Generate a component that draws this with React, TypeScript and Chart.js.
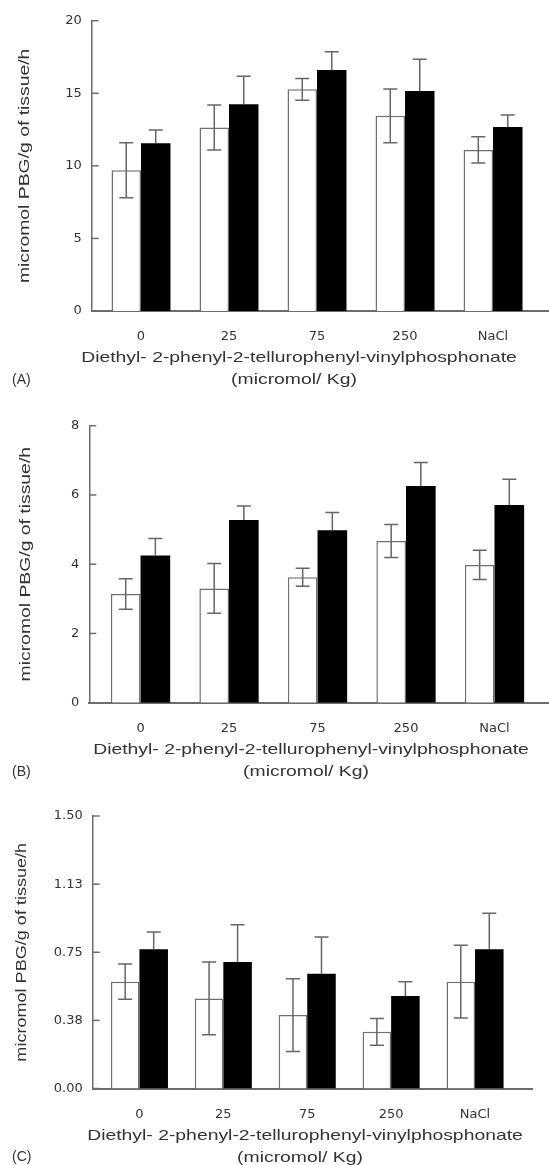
import React, { useEffect, useRef } from 'react';
import { Chart, registerables } from 'chart.js';

Chart.register(...registerables);

// ---------- data ----------
const categories = ['0', '25', '75', '250', 'NaCl'];
const xTitleLine1 = 'Diethyl- 2-phenyl-2-tellurophenyl-vinylphosphonate';
const xTitleLine2 = '(micromol/ Kg)';
const yTitle = 'micromol PBG/g of tissue/h';

// Panel A
const aWhite = [9.7, 12.65, 15.27, 13.45, 11.1];
const aWhiteErr = [1.9, 1.55, 0.75, 1.85, 0.9];
const aBlack = [11.55, 14.25, 16.6, 15.15, 12.67];
const aBlackErr = [0.92, 1.93, 1.26, 2.2, 0.83];
const aTickValues = [0, 5, 10, 15, 20];
const aTickLabels = ['0', '5', '10', '15', '20'];

// Panel B
const bWhite = [3.14, 3.3, 3.62, 4.67, 3.98];
const bWhiteErr = [0.44, 0.72, 0.26, 0.48, 0.42];
const bBlack = [4.25, 5.28, 4.98, 6.26, 5.71];
const bBlackErr = [0.49, 0.4, 0.51, 0.68, 0.74];
const bTickValues = [0, 2, 4, 6, 8];
const bTickLabels = ['0', '2', '4', '6', '8'];

// Panel C
const cWhite = [0.588, 0.496, 0.404, 0.312, 0.588];
const cWhiteErr = [0.097, 0.2, 0.2, 0.074, 0.2];
const cBlack = [0.766, 0.696, 0.632, 0.509, 0.766];
const cBlackErr = [0.095, 0.205, 0.202, 0.079, 0.198];
const cTickValues = [0, 0.375, 0.75, 1.125, 1.5];
const cTickLabels = ['0.00', '0.38', '0.75', '1.13', '1.50'];

// ---------- layout (styles / positions) ----------
const W = 549;
const panels = [
  {
    label: '(A)', top: 0, height: 398, plotTop: 20.7, baseline: 311, left: 91.7, right: 549,
    xMin: -0.56, xMax: 4.636, titleX: 299, yTitleX: 24.5, yTitleSize: 15, catPct: 0.67,
    white: aWhite, whiteErr: aWhiteErr, black: aBlack, blackErr: aBlackErr,
    tickValues: aTickValues, tickLabels: aTickLabels,
  },
  {
    label: '(B)', top: 398, height: 390, plotTop: 425.7, baseline: 702.7, left: 89.3, right: 549,
    xMin: -0.579, xMax: 4.616, titleX: 311, yTitleX: 26, yTitleSize: 15, catPct: 0.67,
    white: bWhite, whiteErr: bWhiteErr, black: bBlack, blackErr: bBlackErr,
    tickValues: bTickValues, tickLabels: bTickLabels,
  },
  {
    label: '(C)', top: 788, height: 377, plotTop: 816, baseline: 1088.5, left: 92.7, right: 532,
    xMin: -0.557, xMax: 4.679, titleX: 305, yTitleX: 22, yTitleSize: 14, catPct: 0.68,
    white: cWhite, whiteErr: cWhiteErr, black: cBlack, blackErr: cBlackErr,
    tickValues: cTickValues, tickLabels: cTickLabels,
  },
];

const AXIS = '#6c6c6c';
const TEXT = '#333333';
const TITLE_FONT = '"Liberation Sans", Arial, sans-serif';
const STRETCH = 1.29;

function PanelChart({ cfg }: { cfg: any }) {
  const ref = useRef<HTMLCanvasElement | null>(null);

  useEffect(() => {
    if (!ref.current) return;
    const X_H = 50;
    const padTop = cfg.plotTop - cfg.top;
    const padBottom = cfg.top + cfg.height - cfg.baseline - X_H;
    const padRight = W - cfg.right;

    const errorBars = {
      id: 'errorBars',
      afterDatasetsDraw(chart: any) {
        const ctx = chart.ctx;
        const y = chart.scales.y;
        ctx.save();
        ctx.strokeStyle = '#666';
        ctx.lineWidth = 1.5;
        chart.data.datasets.forEach((ds: any, di: number) => {
          const meta = chart.getDatasetMeta(di);
          meta.data.forEach((bar: any, i: number) => {
            const v = ds.data[i].y;
            const e = ds.errors[i];
            const cx = bar.x;
            const yTop = y.getPixelForValue(v + e);
            const yBot = ds.bothSides ? y.getPixelForValue(v - e) : y.getPixelForValue(v);
            const cap = 7;
            ctx.beginPath();
            ctx.moveTo(cx, yTop);
            ctx.lineTo(cx, yBot);
            ctx.moveTo(cx - cap, yTop);
            ctx.lineTo(cx + cap, yTop);
            if (ds.bothSides) {
              ctx.moveTo(cx - cap, yBot);
              ctx.lineTo(cx + cap, yBot);
            }
            ctx.stroke();
          });
        });
        ctx.restore();
      },
    };

    const decorations = {
      id: 'decorations',
      afterDraw(chart: any) {
        const ctx = chart.ctx;
        const area = chart.chartArea;
        const y = chart.scales.y;
        ctx.save();
        // inward y ticks
        ctx.strokeStyle = AXIS;
        ctx.lineWidth = 1.5;
        y.ticks.forEach((t: any) => {
          const py = y.getPixelForValue(t.value);
          ctx.beginPath();
          ctx.moveTo(area.left, py);
          ctx.lineTo(area.left + 7, py);
          ctx.stroke();
        });
        ctx.fillStyle = TEXT;
        ctx.textBaseline = 'middle';
        // x title
        ctx.font = `15px ${TITLE_FONT}`;
        ctx.textAlign = 'center';
        ctx.save();
        ctx.translate(cfg.titleX, area.bottom + 47);
        ctx.scale(STRETCH, 1);
        ctx.fillText(xTitleLine1, 0, 0);
        ctx.restore();
        ctx.save();
        ctx.translate(cfg.titleX - 5, area.bottom + 69);
        ctx.scale(STRETCH, 1);
        ctx.fillText(xTitleLine2, 0, 0);
        ctx.restore();
        // panel label
        ctx.save();
        ctx.textAlign = 'left';
        ctx.font = `14px ${TITLE_FONT}`;
        ctx.fillText(cfg.label, 12, area.bottom + 69);
        ctx.restore();
        // y title
        ctx.save();
        ctx.font = `${cfg.yTitleSize}px ${TITLE_FONT}`;
        ctx.translate(cfg.yTitleX, (area.top + area.bottom) / 2);
        ctx.rotate(-Math.PI / 2);
        ctx.scale(STRETCH, 1);
        ctx.textAlign = 'center';
        ctx.fillText(yTitle, 0, 0);
        ctx.restore();
        ctx.restore();
      },
    };

    const chart = new Chart(ref.current, {
      type: 'bar',
      data: {
        datasets: [
          {
            data: cfg.white.map((v: number, i: number) => ({ x: i, y: v })),
            errors: cfg.whiteErr,
            bothSides: true,
            backgroundColor: '#ffffff',
            borderColor: '#707070',
            borderWidth: 1.5,
            borderSkipped: 'bottom',
            categoryPercentage: cfg.catPct,
            barPercentage: 1,
          } as any,
          {
            data: cfg.black.map((v: number, i: number) => ({ x: i, y: v })),
            errors: cfg.blackErr,
            bothSides: false,
            backgroundColor: '#000000',
            borderWidth: 0,
            categoryPercentage: cfg.catPct,
            barPercentage: 1,
          } as any,
        ],
      },
      options: {
        responsive: false,
        animation: false,
        devicePixelRatio: 1,
        layout: { padding: { top: padTop, bottom: padBottom, left: 0, right: padRight } },
        plugins: { legend: { display: false }, tooltip: { enabled: false }, title: { display: false } },
        scales: {
          x: {
            type: 'linear',
            min: cfg.xMin,
            max: cfg.xMax,
            offset: false,
            grid: { display: false, offset: false },
            border: { display: true, color: AXIS, width: 2 },
            afterBuildTicks: (s: any) => {
              s.ticks = categories.map((_, i) => ({ value: i }));
            },
            afterFit: (s: any) => {
              s.height = X_H;
            },
            ticks: {
              padding: 10,
              color: TEXT,
              font: { family: 'DejaVu Sans', size: 13 },
              autoSkip: false,
              maxRotation: 0,
              callback: (v: any) => categories[Math.round(Number(v))] ?? '',
            },
          },
          y: {
            type: 'linear',
            min: cfg.tickValues[0],
            max: cfg.tickValues[cfg.tickValues.length - 1],
            grid: { display: false, drawTicks: false },
            border: { display: true, color: AXIS, width: 1.5 },
            afterBuildTicks: (s: any) => {
              s.ticks = cfg.tickValues.map((v: number) => ({ value: v }));
            },
            afterFit: (s: any) => {
              s.width = cfg.left;
            },
            ticks: {
              padding: 10,
              color: TEXT,
              font: { family: 'DejaVu Sans', size: 13 },
              callback: (v: any) => {
                const idx = cfg.tickValues.indexOf(Number(v));
                return idx >= 0 ? cfg.tickLabels[idx] : '';
              },
            },
          },
        },
      } as any,
      plugins: [errorBars, decorations],
    });
    return () => chart.destroy();
  }, [cfg]);

  return (
    <canvas
      ref={ref}
      width={W}
      height={cfg.height}
      style={{ position: 'absolute', left: 0, top: cfg.top, width: W, height: cfg.height, display: 'block' }}
    />
  );
}

export default function App() {
  return (
    <div style={{ position: 'absolute', left: 0, top: 0, width: W, height: 1165, background: '#fff', overflow: 'hidden' }}>
      {panels.map((p) => (
        <PanelChart key={p.label} cfg={p} />
      ))}
    </div>
  );
}
